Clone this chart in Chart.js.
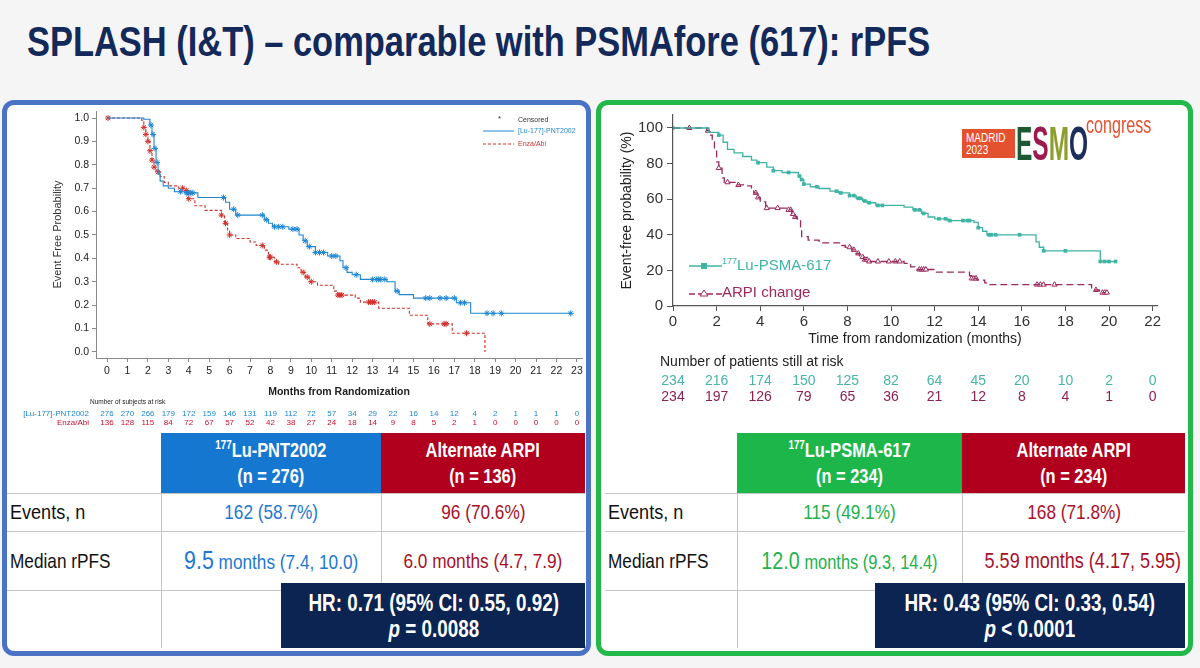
<!DOCTYPE html>
<html>
<head>
<meta charset="utf-8">
<script src="https://cdn.jsdelivr.net/npm/chart.js@4.4.1/dist/chart.umd.min.js"></script>
<style>
  body { margin: 0; width: 1200px; height: 668px; background: #f5f5f5; position: relative; overflow: hidden;
         font-family: "Liberation Sans", Arial, sans-serif; }
  .abs { position: absolute; }
  /* Liberation Sans squeezed to Arial Narrow width */
  .nx { display: inline-block; transform: scaleX(0.82); transform-origin: center; white-space: nowrap; }
  .nl { display: inline-block; transform: scaleX(0.82); transform-origin: left center; white-space: nowrap; }
  #title { left: 27px; top: 21px; font-size: 42px; line-height: 42px; font-weight: bold; color: #13295a; }
  .panel { box-sizing: border-box; border-radius: 12px; background: #fff; }
  table.res { position: absolute; border-collapse: collapse; table-layout: fixed; font-size: 21px; }
  table.res td, table.res th { padding: 0; text-align: center; border: none; white-space: nowrap; }
  table.res th { color: #fff; font-weight: bold; font-size: 20px; line-height: 26px; }
  table.res tr + tr td { border-top: 1px solid #c6c6c6; }
  table.res tr + tr td:nth-child(2), table.res tr + tr td:nth-child(3) { border-left: 1px solid #c6c6c6; }
  table.res td.lab { text-align: left; padding-left: 3px; color: #111; }
  sup { font-size: 60%; line-height: 0; vertical-align: 0.7em; }
  .hr { box-sizing: border-box; background: #0c2451; color: #fff; font-weight: bold; font-size: 23px; line-height: 26px;
        text-align: center; padding-top: 7px; }
  .leg { white-space: nowrap; }
</style>
</head>
<body>
<div id="title" class="abs"><span class="nl">SPLASH (I&amp;T) – comparable with PSMAfore (617): rPFS</span></div>

<div class="abs panel" style="left:2px;top:100px;width:589px;height:556px;border:5px solid #4a73c6"></div>
<div class="abs panel" style="left:596px;top:100px;width:597px;height:556px;border:5px solid #22b84a"></div>

<div class="abs" style="left:8px;top:106px"><canvas id="kmLeft" width="580" height="324"></canvas></div>
<div class="abs" style="left:605px;top:110px"><canvas id="kmRight" width="580" height="300"></canvas></div>

<!-- SPLASH legend -->
<div class="abs" style="left:498px;top:114px;font-size:8px;color:#333">*</div>
<div class="abs" style="left:518px;top:116px;font-size:7px;color:#333">Censored</div>
<svg class="abs" style="left:482px;top:128px" width="34" height="6"><line x1="1" y1="3" x2="32" y2="3" stroke="#1f86d3" stroke-width="1"/></svg>
<div class="abs" style="left:518px;top:127px;font-size:7px;color:#1f86d3">[Lu-177]-PNT2002</div>
<svg class="abs" style="left:482px;top:141px" width="34" height="6"><line x1="1" y1="3" x2="32" y2="3" stroke="#d0312d" stroke-width="1" stroke-dasharray="3,2"/></svg>
<div class="abs" style="left:518px;top:140px;font-size:7px;color:#d0312d">Enza/Abi</div>

<!-- PSMAfore legend -->
<svg class="abs" style="left:688px;top:259px" width="36" height="14"><line x1="1" y1="7" x2="34" y2="7" stroke="#3fb4a5" stroke-width="1.5"/><rect x="13" y="4" width="6" height="6" fill="#3fb4a5"/></svg>
<div class="abs leg" style="left:722px;top:256px;font-size:15px;color:#3fb4a5"><sup>177</sup>Lu-PSMA-617</div>
<svg class="abs" style="left:688px;top:286px" width="36" height="14"><line x1="1" y1="8" x2="34" y2="8" stroke="#9b2a5c" stroke-width="1.3" stroke-dasharray="6,3"/><path d="M16 4 L20 10 L12 10 Z" fill="#fff" stroke="#9b2a5c" stroke-width="1"/></svg>
<div class="abs leg" style="left:722px;top:283px;font-size:15px;color:#9b2a5c">ARPI change</div>

<!-- ESMO logo -->
<div class="abs" style="left:962px;top:129px;width:53px;height:29px;background:#e4512f;color:#fff;font-size:12.5px;line-height:12px;padding:3px 0 0 4px;box-sizing:border-box"><span class="nl" style="transform:scaleX(0.8)">MADRID<br>2023</span></div>
<div class="abs" style="left:1016px;top:121px;font-size:49px;font-weight:bold;line-height:44px"><span class="nl" style="transform:scaleX(0.5)"><span style="color:#1d5a34">E</span><span style="color:#9b1b4e">S</span><span style="color:#8d9e2f">M</span><span style="color:#1c2e5a">O</span></span></div>
<div class="abs" style="left:1086px;top:113px;font-size:23px;line-height:24px;color:#e4512f"><span class="nl" style="transform:scaleX(0.7)">congress</span></div>

<!-- SPLASH results table -->
<table class="res" style="left:7px;top:433px;width:578px">
  <colgroup><col style="width:154px"><col style="width:220px"><col style="width:204px"></colgroup>
  <tr style="height:60px"><td style="border-bottom:1px solid #c6c6c6"></td>
    <th style="background:#1577cf"><span class="nx"><sup>177</sup>Lu-PNT2002<br>(n = 276)</span></th>
    <th style="background:#b0001e"><span class="nx">Alternate ARPI<br>(n = 136)</span></th></tr>
  <tr style="height:38px"><td class="lab"><span class="nl" style="transform:scaleX(0.86)">Events, n</span></td>
    <td style="color:#1d78d0"><span class="nx">162 (58.7%)</span></td>
    <td style="color:#a8102a"><span class="nx">96 (70.6%)</span></td></tr>
  <tr style="height:59px"><td class="lab"><span class="nl">Median rPFS</span></td>
    <td style="color:#1d78d0"><span class="nx"><span style="font-size:26px">9.5</span> months (7.4, 10.0)</span></td>
    <td style="color:#a8102a"><span class="nx">6.0 months (4.7, 7.9)</span></td></tr>
  <tr style="height:58px"><td></td><td></td><td></td></tr>
</table>
<div class="abs hr" style="left:281px;top:583px;width:304px;height:65px"><span class="nx">HR: 0.71 (95% CI: 0.55, 0.92)<br><i>p</i> = 0.0088</span></div>

<!-- PSMAfore results table -->
<table class="res" style="left:605px;top:433px;width:580px">
  <colgroup><col style="width:132px"><col style="width:225px"><col style="width:223px"></colgroup>
  <tr style="height:60px"><td style="border-bottom:1px solid #c6c6c6"></td>
    <th style="background:#1db64b"><span class="nx"><sup>177</sup>Lu-PSMA-617<br>(n = 234)</span></th>
    <th style="background:#b0001e"><span class="nx">Alternate ARPI<br>(n = 234)</span></th></tr>
  <tr style="height:38px"><td class="lab"><span class="nl" style="transform:scaleX(0.86)">Events, n</span></td>
    <td style="color:#22b14c"><span class="nx">115 (49.1%)</span></td>
    <td style="color:#a8102a"><span class="nx">168 (71.8%)</span></td></tr>
  <tr style="height:59px"><td class="lab"><span class="nl">Median rPFS</span></td>
    <td style="color:#22b14c"><span class="nx"><span style="font-size:24px">12.0</span> <span style="font-size:20px">months (9.3, 14.4)</span></span></td>
    <td style="color:#a8102a"><span class="nx" style="font-size:22px">5.59 months (4.17, 5.95)</span></td></tr>
  <tr style="height:58px"><td></td><td></td><td></td></tr>
</table>
<div class="abs hr" style="left:875px;top:583px;width:310px;height:65px"><span class="nx">HR: 0.43 (95% CI: 0.33, 0.54)<br><i>p</i> &lt; 0.0001</span></div>

<script>
// ---- SPLASH (left) ----
const splashMonths = [0, 1, 2, 3, 4, 5, 6, 7, 8, 9, 10, 11, 12, 13, 14, 15, 16, 17, 18, 19, 20, 21, 22, 23];
const splashProbTicks = [0, 0.1, 0.2, 0.3, 0.4, 0.5, 0.6, 0.7, 0.8, 0.9, 1.0];

const luPntTime = [0, 1.8, 2.1, 2.2, 2.3, 2.4, 2.5, 2.6, 2.75, 3.0, 3.3, 3.8, 4.45, 5.8, 6.0, 6.3, 7.7, 7.9, 8.1, 8.9,
  9.4, 9.6, 9.8, 10.2, 10.8, 11.4, 11.55, 11.75, 12.0, 12.4, 13.7, 14.1, 14.3, 15.0, 17.1, 17.8, 22.7];
const luPntSurv = [1.0, 0.995, 0.97, 0.93, 0.87, 0.81, 0.76, 0.73, 0.71, 0.70, 0.685, 0.68, 0.66, 0.64, 0.61, 0.585, 0.565, 0.55, 0.535, 0.525,
  0.50, 0.475, 0.45, 0.425, 0.41, 0.39, 0.36, 0.34, 0.33, 0.31, 0.30, 0.26, 0.245, 0.23, 0.21, 0.165, 0.165];
const luPntCens = [2.15, 2.25, 2.35, 2.45, 3.6, 3.9, 4.0, 4.1, 4.2, 5.7, 6.2, 6.4, 7.6, 7.8, 8.2, 8.4, 8.6, 9.1, 9.3, 9.7,
  9.9, 10.2, 10.4, 10.6, 11.0, 11.2, 11.7, 12.2, 13.0, 13.2, 13.3, 13.4, 13.6, 14.2, 15.6, 15.8, 16.3, 16.6, 17.0, 17.3,
  17.5, 18.6, 18.9, 19.3, 22.7];

const enzaTime = [0, 1.7, 1.8, 1.9, 2.0, 2.1, 2.2, 2.3, 2.4, 2.6, 2.8, 3.0, 3.5, 3.8, 3.95, 4.3, 4.8, 5.6, 5.75, 5.9,
  6.0, 6.3, 7.0, 7.3, 7.7, 7.9, 8.2, 8.4, 9.3, 9.5, 9.7, 9.9, 10.3, 11.1, 11.3, 12.15, 12.4, 13.3, 14.8, 15.7,
  16.9, 18.5, 18.5];
const enzaSurv = [1.0, 0.99, 0.96, 0.93, 0.90, 0.86, 0.82, 0.79, 0.77, 0.75, 0.725, 0.71, 0.70, 0.69, 0.655, 0.625, 0.605, 0.585, 0.55, 0.52,
  0.50, 0.485, 0.47, 0.455, 0.435, 0.405, 0.385, 0.375, 0.36, 0.34, 0.32, 0.30, 0.285, 0.26, 0.243, 0.23, 0.213, 0.187, 0.157, 0.12,
  0.08, 0.08, 0.0];
const enzaCens = [0.05, 1.8, 1.9, 2.0, 2.1, 2.2, 2.3, 2.5, 3.7, 3.9, 4.0, 5.6, 5.8, 6.0, 7.6, 7.95, 8.0, 8.3, 9.6, 9.8,
  10.0, 11.3, 11.4, 11.5, 12.8, 12.9, 13.0, 13.1, 15.8, 16.5, 16.6, 17.6];

const luPntRisk = [276, 270, 266, 179, 172, 159, 146, 131, 119, 112, 72, 57, 34, 29, 22, 16, 14, 12, 4, 2, 1, 1, 1, 0];
const enzaRisk = [136, 128, 115, 84, 72, 67, 57, 52, 42, 38, 27, 24, 18, 14, 9, 8, 5, 2, 1, 0, 0, 0, 0, 0];

// ---- PSMAfore (right) ----
const psmaMonths = [0, 2, 4, 6, 8, 10, 12, 14, 16, 18, 20, 22];
const psmaPctTicks = [0, 20, 40, 60, 80, 100];

const lu617Time = [0, 1.65, 2.1, 2.3, 2.5, 2.8, 3.2, 3.6, 3.85, 4.3, 4.6, 5.0, 5.75, 5.85, 6.0, 6.3, 6.7, 7.2, 7.6, 8.1,
  8.4, 8.7, 8.9, 9.3, 10.6, 11.0, 11.4, 11.7, 12.0, 12.6, 13.8, 14.0, 14.2, 14.4, 16.65, 16.8, 17.0, 19.6, 20.3];
const lu617Surv = [100, 97.5, 96, 92, 88, 86, 84, 82, 80.5, 78, 76, 75, 73, 71, 68.5, 67, 66, 64.5, 63.5, 62,
  60.5, 59, 58, 56.5, 55.5, 54, 52, 50, 49, 48, 47, 44, 42, 40, 36, 33, 31, 25, 25];
const lu617Cens = [0.0, 2.1, 3.9, 4.6, 5.3, 5.8, 5.9, 6.0, 6.6, 7.5, 7.7, 8.1, 8.3, 8.5, 8.6, 8.8, 9.0, 9.4, 9.6, 11.1,
  11.3, 11.5, 12.2, 12.5, 12.7, 13.3, 13.5, 13.6, 14.0, 14.5, 14.6, 14.8, 15.9, 17.0, 18.0, 19.6, 19.8, 20.0, 20.3];

const arpiTime = [0, 1.55, 1.65, 1.8, 1.9, 2.0, 2.1, 2.25, 2.35, 2.95, 3.35, 3.6, 3.7, 3.85, 4.0, 4.25, 5.3, 5.45, 5.6, 5.7,
  5.85, 5.9, 6.2, 6.7, 7.75, 7.9, 8.2, 8.4, 8.55, 8.75, 9.0, 10.6, 10.9, 11.1, 12.0, 13.6, 13.7, 13.95, 14.3, 14.5,
  19.2, 19.55, 19.85];
const arpiSurv = [100, 98.5, 96, 92, 88, 81, 77.5, 72, 69.5, 68, 67.5, 66, 63.5, 61, 58.5, 55, 54, 51.7, 50, 48,
  43.8, 39, 37, 35.5, 34, 33, 31.5, 29.5, 27.5, 26, 25, 24, 22, 20.5, 19, 17, 15.5, 14.5, 13, 12,
  9, 7.5, 7.5];
const arpiCens = [0.75, 1.6, 2.1, 2.5, 3.0, 3.8, 3.9, 4.3, 4.8, 5.3, 5.4, 5.5, 5.6, 8.1, 8.3, 8.5, 8.7, 8.8, 8.9, 9.0,
  9.4, 9.9, 10.2, 10.4, 11.3, 11.4, 11.5, 11.6, 13.7, 13.8, 13.9, 16.7, 16.85, 17.0, 17.5, 19.4, 19.7, 19.8, 19.9];

const lu617Risk = [234, 216, 174, 150, 125, 82, 64, 45, 20, 10, 2, 0];
const arpiRisk = [234, 197, 126, 79, 65, 36, 21, 12, 8, 4, 1, 0];

const ARIAL = '"Liberation Sans", Arial, sans-serif';

const xy = (T, S) => T.map((t, i) => ({ x: t, y: S[i] }));
const survAt = (T, S, t) => {
  let s = S[0];
  T.forEach((u, i) => { if (u <= t) s = S[i]; });
  return s;
};
const censPts = (T, S, C) => C.map(t => ({ x: t, y: survAt(T, S, t) }));

// numbers at risk, drawn under the x axis at each tick
const riskRows = {
  id: 'riskRows',
  afterDraw(chart, args, opts) {
    const { ctx, scales: { x } } = chart;
    ctx.save();
    ctx.textBaseline = 'middle';
    ctx.textAlign = 'left';
    ctx.font = opts.headingFont;
    ctx.fillStyle = '#222';
    ctx.fillText(opts.heading, opts.headingX, opts.headingY);
    opts.rows.forEach(r => {
      ctx.font = opts.font;
      ctx.fillStyle = r.color;
      if (r.label) {
        ctx.textAlign = 'right';
        ctx.fillText(r.label, opts.labelX, r.y);
      }
      ctx.textAlign = 'center';
      r.values.forEach((v, i) => ctx.fillText(String(v), x.getPixelForValue(opts.times[i]), r.y));
    });
    ctx.restore();
  }
};

const BLUE = '#1f86d3', RED = '#d0312d', TEAL = '#3fb4a5', MAROON = '#9b2a5c';

new Chart(document.getElementById('kmLeft'), {
  type: 'line',
  data: {
    datasets: [
      { data: xy(luPntTime, luPntSurv), borderColor: BLUE, borderWidth: 1.1, stepped: 'before', pointRadius: 0 },
      { data: xy(enzaTime, enzaSurv), borderColor: RED, borderWidth: 1.1, borderDash: [3, 2], stepped: 'before', pointRadius: 0 },
      { data: censPts(luPntTime, luPntSurv, luPntCens), showLine: false, pointStyle: 'star', pointRadius: 3,
        borderColor: BLUE, backgroundColor: BLUE, pointBorderWidth: 1 },
      { data: censPts(enzaTime, enzaSurv, enzaCens), showLine: false, pointStyle: 'star', pointRadius: 3,
        borderColor: RED, backgroundColor: RED, pointBorderWidth: 1 }
    ]
  },
  options: {
    responsive: false,
    animation: false,
    events: [],
    layout: { padding: { left: 40, right: 6, top: 4, bottom: 28 } },
    plugins: {
      legend: { display: false },
      tooltip: { enabled: false },
      riskRows: {
        times: splashMonths,
        heading: 'Number of subjects at risk',
        headingFont: '6.5px ' + ARIAL,
        headingX: 82, headingY: 296,
        labelX: 81,
        font: '8px ' + ARIAL,
        rows: [
          { label: '[Lu-177]-PNT2002', values: luPntRisk, color: BLUE, y: 308 },
          { label: 'Enza/Abi', values: enzaRisk, color: '#c8102e', y: 317 }
        ]
      }
    },
    scales: {
      x: {
        type: 'linear', min: -0.54, max: 23.25,
        afterBuildTicks: s => { s.ticks = splashMonths.map(v => ({ value: v })); },
        afterFit: s => { s.height = 44; s.paddingLeft = 0; s.paddingRight = 0; },
        ticks: { color: '#222', font: { family: ARIAL, size: 10.5 }, padding: 3, maxRotation: 0, autoSkip: false },
        grid: { drawOnChartArea: false, drawTicks: true, tickLength: 4, color: '#8a8a8a' },
        border: { color: '#8a8a8a' },
        title: { display: true, text: 'Months from Randomization', color: '#222',
                 font: { family: ARIAL, size: 10.5, weight: 'bold' }, padding: { top: 4, bottom: 4 } }
      },
      y: {
        min: -0.026, max: 1.03,
        afterBuildTicks: s => { s.ticks = splashProbTicks.map(v => ({ value: v })); },
        afterFit: s => { s.width = 48; s.paddingTop = 0; s.paddingBottom = 0; },
        ticks: { color: '#222', font: { family: ARIAL, size: 10.5 }, padding: 3, callback: v => v.toFixed(1) },
        grid: { drawOnChartArea: false, drawTicks: true, tickLength: 4, color: '#8a8a8a' },
        border: { color: '#8a8a8a' },
        title: { display: true, text: 'Event Free Probability', color: '#333',
                 font: { family: ARIAL, size: 11 }, padding: { top: 3, bottom: 4 } }
      }
    }
  },
  plugins: [riskRows]
});

new Chart(document.getElementById('kmRight'), {
  type: 'line',
  data: {
    datasets: [
      { data: xy(lu617Time, lu617Surv), borderColor: TEAL, borderWidth: 1.3, stepped: 'before', pointRadius: 0 },
      { data: xy(arpiTime, arpiSurv), borderColor: MAROON, borderWidth: 1.3, borderDash: [7, 4], stepped: 'before', pointRadius: 0 },
      { data: censPts(lu617Time, lu617Surv, lu617Cens), showLine: false, pointStyle: 'rect', pointRadius: 2.6,
        borderColor: TEAL, backgroundColor: TEAL, pointBorderWidth: 0 },
      { data: censPts(arpiTime, arpiSurv, arpiCens), showLine: false, pointStyle: 'triangle', pointRadius: 3,
        borderColor: MAROON, backgroundColor: '#fff', pointBorderWidth: 1 }
    ]
  },
  options: {
    responsive: false,
    animation: false,
    events: [],
    layout: { padding: { left: 10, right: 28, top: 5, bottom: 58 } },
    plugins: {
      legend: { display: false },
      tooltip: { enabled: false },
      riskRows: {
        times: psmaMonths,
        heading: 'Number of patients still at risk',
        headingFont: '14px ' + ARIAL,
        headingX: 55, headingY: 252,
        labelX: 0,
        font: '14px ' + ARIAL,
        rows: [
          { values: lu617Risk, color: '#48b5a6', y: 271 },
          { values: arpiRisk, color: '#8c2251', y: 287 }
        ]
      }
    },
    scales: {
      x: {
        type: 'linear', min: 0, max: 22.2,
        afterBuildTicks: s => { s.ticks = psmaMonths.map(v => ({ value: v })); },
        afterFit: s => { s.height = 46; s.paddingLeft = 0; s.paddingRight = 0; },
        ticks: { color: '#333', font: { family: ARIAL, size: 15 }, padding: 2, maxRotation: 0, autoSkip: false },
        grid: { drawOnChartArea: false, drawTicks: true, tickLength: 5, color: '#555' },
        border: { color: '#555', width: 1.2 },
        title: { display: true, text: 'Time from randomization (months)', color: '#222',
                 font: { family: ARIAL, size: 14 }, padding: { top: 4, bottom: 4 } }
      },
      y: {
        min: 0, max: 107.3,
        afterBuildTicks: s => { s.ticks = psmaPctTicks.map(v => ({ value: v })); },
        afterFit: s => { s.width = 58; s.paddingTop = 0; s.paddingBottom = 0; },
        ticks: { color: '#333', font: { family: ARIAL, size: 15 }, padding: 4 },
        grid: { drawOnChartArea: false, drawTicks: true, tickLength: 6, color: '#555' },
        border: { color: '#555', width: 1.2 },
        title: { display: true, text: 'Event-free probability (%)', color: '#222',
                 font: { family: ARIAL, size: 14 }, padding: { top: 4, bottom: 4 } }
      }
    }
  },
  plugins: [riskRows]
});
</script>
</body>
</html>
